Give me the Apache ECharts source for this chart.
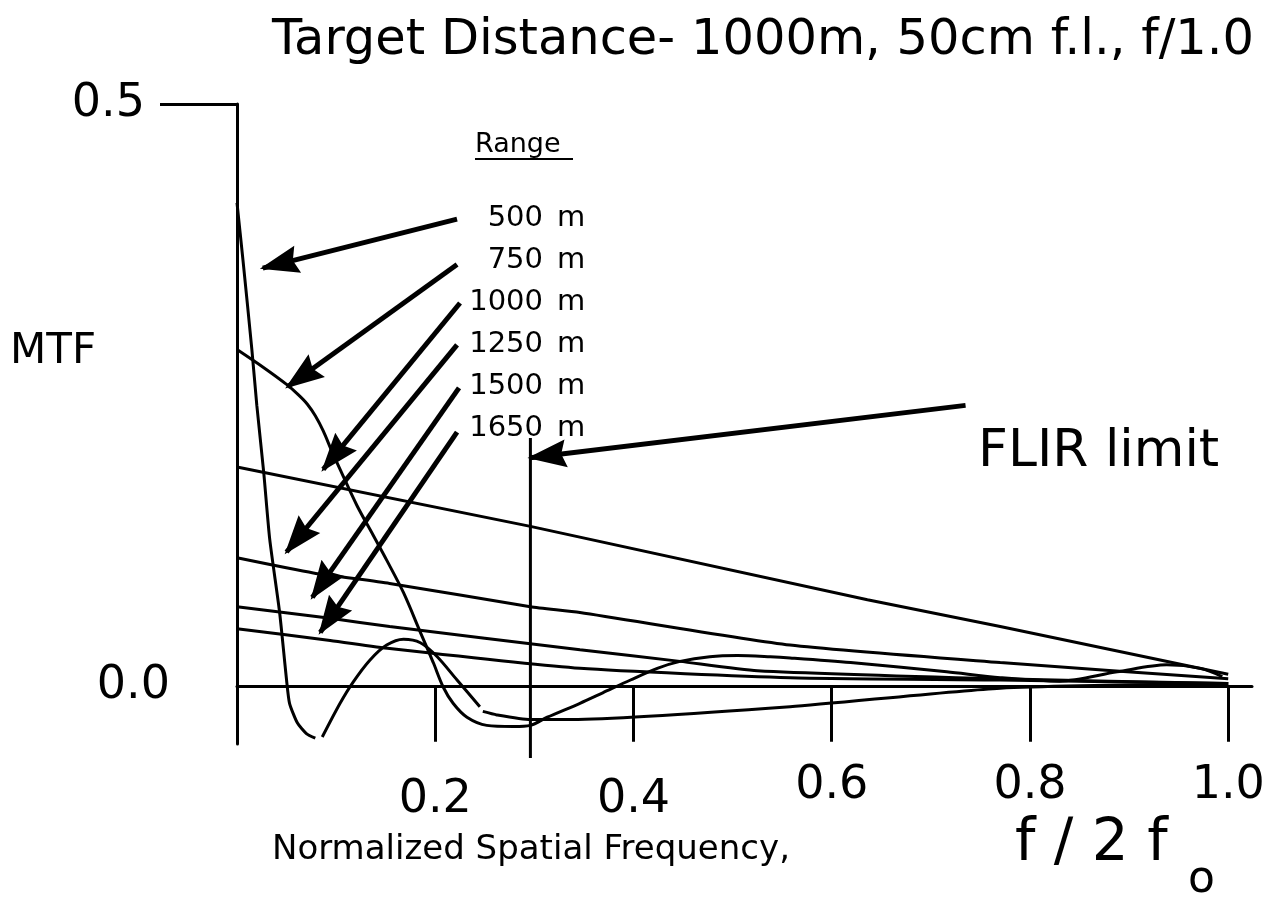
<!DOCTYPE html>
<html>
<head>
<meta charset="utf-8">
<title>MTF vs normalized spatial frequency</title>
<script src="https://cdn.jsdelivr.net/npm/echarts/dist/echarts.min.js"></script>
<style>
html, body { margin: 0; padding: 0; background: #fff; }
#chart { width: 1272px; height: 913px; }
</style>
</head>
<body>
<div id="chart"></div>
<script>
// values, [f / 2fo, MTF]
const mtf500Main = [[0, 0.415], [0.006, 0.366], [0.015, 0.289], [0.020, 0.241], [0.027, 0.183], [0.033, 0.126],
  [0.043, 0.063], [0.050, 0.005], [0.053, -0.015], [0.061, -0.032], [0.070, -0.041], [0.079, -0.045]]
const mtf500Lobe = [[0.086, -0.044], [0.104, -0.015], [0.117, 0.003], [0.134, 0.022], [0.151, 0.035], [0.168, 0.040],
  [0.185, 0.037], [0.202, 0.025], [0.222, 0.005], [0.245, -0.018]]
const mtf500Tail = [[0.248, -0.022], [0.262, -0.025], [0.296, -0.029], [0.338, -0.029], [0.558, -0.018], [0.770, -0.002], [1.0, 0.002]]
const mtf750 = [[0, 0.289], [0.026, 0.274], [0.050, 0.259], [0.062, 0.250], [0.071, 0.242], [0.079, 0.232], [0.087, 0.219],
  [0.095, 0.203], [0.104, 0.186], [0.121, 0.155], [0.137, 0.130], [0.151, 0.108], [0.168, 0.080], [0.185, 0.046],
  [0.198, 0.020], [0.208, -0.001], [0.218, -0.015], [0.232, -0.027], [0.252, -0.034], [0.279, -0.035], [0.296, -0.034],
  [0.313, -0.027], [0.346, -0.015], [0.369, -0.006], [0.397, 0.005], [0.424, 0.015], [0.447, 0.021], [0.477, 0.025],
  [0.505, 0.026], [0.538, 0.025], [0.558, 0.024], [0.619, 0.020], [0.716, 0.012], [0.770, 0.007], [0.830, 0.004],
  [0.888, 0.012], [0.938, 0.018], [0.972, 0.015], [0.994, 0.008]]
const mtf1000 = [[0, 0.188], [0.296, 0.137], [0.636, 0.074], [0.770, 0.051], [1.0, 0.010]]
const mtf1250 = [[0, 0.110], [0.077, 0.097], [0.154, 0.088], [0.296, 0.068], [0.346, 0.063], [0.558, 0.035], [0.770, 0.020], [1.0, 0.006]]
const mtf1500 = [[0, 0.068], [0.094, 0.058], [0.154, 0.051], [0.346, 0.031], [0.447, 0.021], [0.525, 0.013], [0.770, 0.006], [1.0, 0.002]]
const mtf1650 = [[0, 0.049], [0.094, 0.039], [0.154, 0.032], [0.346, 0.015], [0.558, 0.007], [0.770, 0.005], [1.0, 0.002]]

const flirLimit = 0.296
const flirSpan = [-0.062, 0.213]
const xTickValues = [0, 0.2, 0.4, 0.6, 0.8, 1.0]
const xLabelValues = [0.2, 0.4, 0.6, 0.8, 1.0]
const yLabelValues = [0, 0.5]
const rangeNames = ['500', '750', '1000', '1250', '1500', '1650']

// arrows from the range labels to the curves, [from, to] in data coords
const arrowSegments = [
  [[0.222, 0.401], [0.026, 0.359]],
  [[0.222, 0.362], [0.051, 0.257]],
  [[0.225, 0.329], [0.087, 0.186]],
  [[0.222, 0.293], [0.050, 0.115]],
  [[0.224, 0.256], [0.076, 0.076]],
  [[0.222, 0.218], [0.084, 0.046]],
  [[0.735, 0.241], [0.296, 0.196]]
]

const FONT = 'DejaVu Sans'
const chart = echarts.init(document.getElementById('chart'))

function curve(name, data, smooth) {
  return {
    name: name,
    type: 'line',
    data: data,
    smooth: smooth,
    showSymbol: false,
    silent: true,
    clip: false,
    lineStyle: { color: '#000', width: 3 }
  }
}

const texts = [
  { type: 'text', x: 10, y: 352, style: { text: 'MTF', fontSize: 42, fontFamily: FONT, fill: '#000', verticalAlign: 'middle' } },
  { type: 'text', x: 475, y: 145, style: { text: 'Range', fontSize: 27, fontFamily: FONT, fill: '#000', verticalAlign: 'middle' } },
  { type: 'line', shape: { x1: 475, y1: 159, x2: 573, y2: 159 }, style: { stroke: '#000', lineWidth: 2 } },
  { type: 'text', x: 978, y: 452, style: { text: 'FLIR limit', fontSize: 52, fontFamily: FONT, fill: '#000', verticalAlign: 'middle' } },
  { type: 'text', x: 272, y: 850, style: { text: 'Normalized Spatial Frequency,', fontSize: 34, fontFamily: FONT, fill: '#000', verticalAlign: 'middle' } },
  { type: 'text', x: 1015, y: 845, style: { text: 'f / 2 f', fontSize: 58, fontFamily: FONT, fill: '#000', verticalAlign: 'middle' } },
  { type: 'text', x: 1188, y: 881, style: { text: 'o', fontSize: 44, fontFamily: FONT, fill: '#000', verticalAlign: 'middle' } }
]
rangeNames.forEach((r, i) => {
  const y = 218 + i * 42
  texts.push({ type: 'text', x: 543, y: y, style: { text: r, fontSize: 29, fontFamily: FONT, fill: '#000', align: 'right', verticalAlign: 'middle' } })
  texts.push({ type: 'text', x: 557, y: y, style: { text: 'm', fontSize: 29, fontFamily: FONT, fill: '#000', align: 'left', verticalAlign: 'middle' } })
})

const option = {
  backgroundColor: '#fff',
  animation: false,
  title: {
    text: 'Target Distance- 1000m, 50cm f.l., f/1.0',
    left: 267,
    top: 11,
    textStyle: { fontFamily: FONT, fontSize: 49.5, fontWeight: 'normal', color: '#000' }
  },
  grid: { left: 237, right: 20, top: 104, bottom: 169, outerBoundsMode: 'none' },
  xAxis: {
    type: 'value',
    min: 0,
    max: 1.024,
    splitLine: { show: false },
    axisLine: { onZero: true, lineStyle: { color: '#000', width: 3 } },
    axisTick: { customValues: xTickValues, length: 56, lineStyle: { color: '#000', width: 3 } },
    axisLabel: {
      customValues: xLabelValues,
      margin: 18,
      formatter: v => (v < 0.5 ? '{low|' : '{high|') + v.toFixed(1) + '}',
      rich: {
        low: { fontFamily: FONT, fontSize: 46, lineHeight: 76, color: '#000' },
        high: { fontFamily: FONT, fontSize: 46, lineHeight: 48, color: '#000' }
      }
    }
  },
  yAxis: {
    type: 'value',
    min: -0.05,
    max: 0.5,
    splitLine: { show: false },
    axisLine: { lineStyle: { color: '#000', width: 3 } },
    axisTick: { customValues: [0.5], length: 77, lineStyle: { color: '#000', width: 3 } },
    axisLabel: {
      customValues: yLabelValues,
      margin: 67,
      formatter: v => (v > 0 ? '{top|' : '{zero|') + v.toFixed(1) + '}',
      rich: {
        top: { fontFamily: FONT, fontSize: 46, color: '#000', padding: [0, 25, 0, 0] },
        zero: { fontFamily: FONT, fontSize: 46, color: '#000' }
      }
    }
  },
  graphic: texts,
  series: [
    curve('500 m', mtf500Main, 0.2),
    curve('500 m lobe', mtf500Lobe, 0.3),
    curve('500 m tail', mtf500Tail, 0.2),
    curve('750 m', mtf750, 0.3),
    curve('1000 m', mtf1000, false),
    curve('1250 m', mtf1250, 0.2),
    curve('1500 m', mtf1500, 0.2),
    curve('1650 m', mtf1650, 0.2),
    {
      name: 'FLIR limit',
      type: 'line',
      data: [[flirLimit, flirSpan[0]], [flirLimit, flirSpan[1]]],
      showSymbol: false,
      silent: true,
      clip: false,
      lineStyle: { color: '#000', width: 3 },
      markLine: {
        silent: true,
        symbol: 'none',
        label: { show: false },
        lineStyle: { color: '#000', width: 5, type: 'solid' },
        emphasis: { disabled: true },
        data: arrowSegments.map(s => [{ coord: s[0] }, { coord: s[1] }])
      }
    }
  ]
}
chart.setOption(option)

// arrow heads, placed from the same data coords through the grid's scales
const heads = arrowSegments.map((s, i) => {
  const a = chart.convertToPixel({ gridIndex: 0 }, s[0])
  const b = chart.convertToPixel({ gridIndex: 0 }, s[1])
  const len = Math.hypot(b[0] - a[0], b[1] - a[1])
  const ux = (b[0] - a[0]) / len
  const uy = (b[1] - a[1]) / len
  const L = 36, W = 14, N = 31
  return {
    id: 'head' + i,
    type: 'polygon',
    z: 100,
    shape: {
      points: [
        [b[0] + ux * 3, b[1] + uy * 3],
        [b[0] - ux * L - uy * W, b[1] - uy * L + ux * W],
        [b[0] - ux * N, b[1] - uy * N],
        [b[0] - ux * L + uy * W, b[1] - uy * L - ux * W]
      ]
    },
    style: { fill: '#000' }
  }
})
chart.setOption({ graphic: texts.concat(heads) })
</script>
</body>
</html>
